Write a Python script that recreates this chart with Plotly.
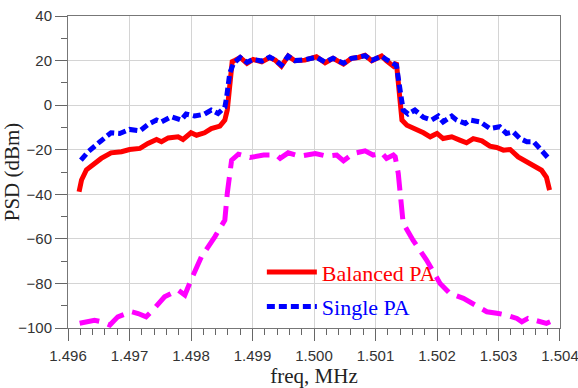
import plotly.graph_objects as go

# Balanced PA (red, solid)
bal_x = [1.49618, 1.49622, 1.49630, 1.49643, 1.49654, 1.49670, 1.49687, 1.49700, 1.49717, 1.49730,
         1.49744, 1.49752, 1.49763, 1.49779, 1.49787, 1.49800, 1.49809, 1.49822, 1.49833, 1.49847,
         1.49855, 1.49859, 1.49861, 1.49864, 1.49867, 1.49872, 1.49880, 1.49891, 1.49901, 1.49915,
         1.49928, 1.49937, 1.49947, 1.49958, 1.49969, 1.49985, 1.50004, 1.50018, 1.50031, 1.50048,
         1.50061, 1.50072, 1.50083, 1.50094, 1.50110, 1.50118, 1.50129, 1.50134, 1.50137, 1.50140,
         1.50143, 1.50151, 1.50164, 1.50178, 1.50189, 1.50200, 1.50210, 1.50224, 1.50237, 1.50248,
         1.50259, 1.50273, 1.50286, 1.50297, 1.50308, 1.50319, 1.50332, 1.50346, 1.50359, 1.50370,
         1.50378, 1.50383]
bal_y = [-38.9, -33.6, -29.0, -25.9, -23.9, -21.4, -20.9, -19.9, -19.4, -17.2,
         -15.4, -16.4, -14.7, -14.2, -15.4, -12.4, -13.5, -12.4, -10.5, -9.4,
         -6.7, -2.2, 4.5, 15.0, 19.5, 20.2, 21.4, 18.7, 20.5, 19.4,
         21.4, 20.2, 17.5, 22.0, 19.9, 20.2, 21.7, 19.0, 21.0, 18.4,
         21.0, 21.4, 22.4, 19.9, 22.0, 19.9, 17.5, 19.0, 12.0, 2.2,
         -6.7, -9.0, -10.5, -12.4, -14.2, -12.7, -15.0, -14.2, -15.7, -16.9,
         -15.0, -16.0, -18.4, -19.0, -20.2, -19.9, -23.2, -25.4, -27.4, -29.2,
         -32.4, -38.1]

# Single PA (blue, dotted)
sgl_x = [1.49621, 1.49633, 1.49652, 1.49670, 1.49684, 1.49700, 1.49717, 1.49730, 1.49744, 1.49752,
         1.49768, 1.49784, 1.49792, 1.49806, 1.49822, 1.49833, 1.49844, 1.49855, 1.49858, 1.49863,
         1.49869, 1.49880, 1.49891, 1.49901, 1.49915, 1.49928, 1.49937, 1.49947, 1.49958, 1.49969,
         1.49985, 1.50004, 1.50018, 1.50031, 1.50048, 1.50061, 1.50072, 1.50083, 1.50094, 1.50110,
         1.50118, 1.50129, 1.50134, 1.50140, 1.50145, 1.50153, 1.50164, 1.50178, 1.50191, 1.50202,
         1.50210, 1.50224, 1.50232, 1.50246, 1.50254, 1.50270, 1.50286, 1.50302, 1.50313, 1.50324,
         1.50335, 1.50346, 1.50357, 1.50367, 1.50384]
sgl_y = [-24.7, -20.9, -16.4, -12.4, -12.7, -10.9, -11.5, -8.7, -6.7, -7.5,
         -5.2, -6.7, -4.0, -4.9, -4.0, -2.2, -3.7, -1.0, 3.7, 14.3,
         18.7, 21.4, 19.2, 20.5, 19.8, 21.6, 20.2, 18.0, 22.0, 20.0,
         20.4, 21.5, 19.3, 21.0, 18.8, 21.0, 21.4, 22.2, 20.1, 22.0,
         20.4, 18.5, 17.9, 6.7, -2.2, -4.0, -2.2, -5.5, -6.7, -4.9,
         -7.5, -4.9, -6.7, -8.2, -6.7, -7.5, -10.5, -9.7, -12.7, -12.0,
         -15.0, -16.4, -16.4, -19.4, -24.7]

# Third trace (magenta, long dash, no legend entry)
mag_x = [1.49619, 1.49633, 1.49643, 1.49654, 1.49668, 1.49681, 1.49703, 1.49714, 1.49727, 1.49738,
         1.49757, 1.49779, 1.49790, 1.49800, 1.49817, 1.49839, 1.49855, 1.49859, 1.49863, 1.49866,
         1.49877, 1.49896, 1.49918, 1.49939, 1.49945, 1.49958, 1.49977, 1.50002, 1.50021, 1.50037,
         1.50048, 1.50064, 1.50083, 1.50096, 1.50110, 1.50118, 1.50129, 1.50132, 1.50137, 1.50143,
         1.50145, 1.50161, 1.50183, 1.50205, 1.50221, 1.50243, 1.50265, 1.50281, 1.50300, 1.50313,
         1.50330, 1.50338, 1.50348, 1.50362, 1.50378, 1.50384]
mag_y = [-97.9, -97.2, -96.5, -97.2, -98.7, -95.0, -92.7, -93.5, -95.0, -92.0,
         -86.0, -83.0, -85.2, -78.5, -68.0, -59.0, -51.6, -39.6, -29.2, -24.7,
         -22.0, -23.5, -22.4, -22.4, -23.9, -21.4, -22.9, -21.7, -22.9, -22.4,
         -25.0, -21.7, -20.5, -22.4, -21.4, -23.9, -22.4, -23.2, -30.6, -45.6,
         -53.0, -60.6, -69.5, -80.0, -84.5, -86.7, -90.5, -92.7, -93.5, -94.2,
         -95.7, -97.2, -95.7, -96.5, -97.9, -97.2]

x_ticks = [1.496, 1.497, 1.498, 1.499, 1.500, 1.501, 1.502, 1.503, 1.504]
y_ticks = [40, 20, 0, -20, -40, -60, -80, -100]

fig = go.Figure()
fig.add_trace(go.Scatter(x=mag_x, y=mag_y, mode="lines", showlegend=False,
                         line=dict(color="#ff00ff", width=5, dash="20px,9px")))
fig.add_trace(go.Scatter(x=bal_x, y=bal_y, mode="lines",
                         name="<span style='color:#ff0000'>Balanced PA</span>",
                         line=dict(color="#ff0000", width=5), legend="legend"))
fig.add_trace(go.Scatter(x=sgl_x, y=sgl_y, mode="lines",
                         name="<span style='color:#0000ff'>Single PA</span>",
                         line=dict(color="#0000ff", width=5, dash="8px,4px"), legend="legend2"))

axis_common = dict(showgrid=True, gridcolor="#d4d4d4", gridwidth=1,
                   showline=True, linecolor="#777777", linewidth=1, mirror=True,
                   ticks="outside", ticklen=12, tickcolor="#666666",
                   tickfont=dict(family="Liberation Sans, Arial", size=15, color="#333333"),
                   zeroline=False, automargin=False)

fig.update_xaxes(range=[1.496, 1.5040001], tickvals=x_ticks, ticktext=[f"{v:.3f}" for v in x_ticks],
                 minor=dict(dtick=0.0002, ticks="outside", ticklen=6, tickcolor="#666666", showgrid=False),
                 ticklabelstandoff=2, ticklabeloverflow="allow",
                 title=dict(text="freq, MHz", font=dict(family="Liberation Serif, Times New Roman", size=21, color="#222222"),
                            standoff=8),
                 **axis_common)
fig.update_yaxes(range=[-100, 40], tickvals=y_ticks,
                 minor=dict(dtick=10, ticks="outside", ticklen=6, tickcolor="#666666", showgrid=False),
                 title=dict(text="PSD (dBm)", font=dict(family="Liberation Serif, Times New Roman", size=21, color="#222222"),
                            standoff=2),
                 **axis_common)

leg_common = dict(font=dict(family="Liberation Serif, Times New Roman", size=22),
                  bgcolor="rgba(0,0,0,0)", itemwidth=50, xanchor="left", yanchor="middle")
fig.update_layout(
    width=578, height=388,
    margin=dict(l=68, r=18, t=16, b=60),
    paper_bgcolor="white", plot_bgcolor="white",
    legend=dict(x=0.394, y=0.179, **leg_common),
    legend2=dict(x=0.394, y=0.068, **leg_common),
)

fig.write_html("out.html")
